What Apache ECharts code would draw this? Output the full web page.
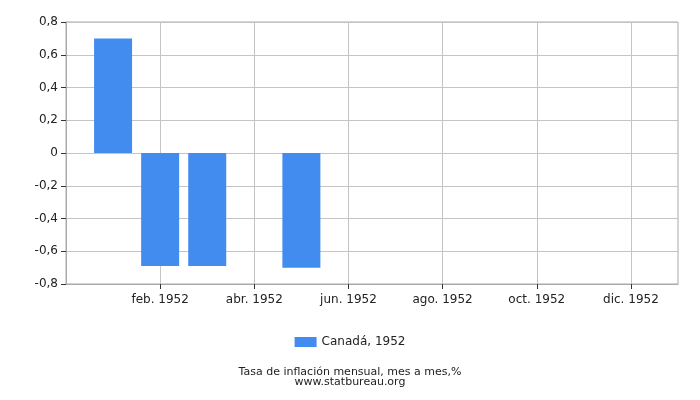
<!DOCTYPE html>
<html>
<head>
<meta charset="utf-8">
<script src="https://cdn.jsdelivr.net/npm/echarts@6/dist/echarts.min.js"></script>
<style>html,body{margin:0;padding:0;background:#fff}#c{width:700px;height:400px}</style>
</head>
<body>
<div id="c"></div>
<script>
var months = ['dic. 1951','ene. 1952','feb. 1952','mar. 1952','abr. 1952','may. 1952','jun. 1952','jul. 1952','ago. 1952','sep. 1952','oct. 1952','nov. 1952','dic. 1952','ene. 1953'];
var values = [null, 0.7, -0.69, -0.69, 0, -0.7, null, null, null, null, null, null, null, null];
var seriesName = 'Canadá, 1952';
var titleText = 'Tasa de inflación mensual, mes a mes,%';
var subText = 'www.statbureau.org';

var FONT = 'DejaVu Sans';
var showIdx = function (i) { return i % 2 === 0 && i > 0 && i < 13; };
var chart = echarts.init(document.getElementById('c'), null, {renderer: 'canvas'});
chart.setOption({
  animation: false,
  textStyle: {fontFamily: FONT},
  grid: {left: 66, right: 22, top: 22, bottom: 116, show: true, borderColor: '#aaaaaa', borderWidth: 1, backgroundColor: 'transparent'},
  title: {
    text: titleText, subtext: subText, left: 'center', top: 362, itemGap: -1,
    textStyle: {fontFamily: FONT, fontSize: 11, fontWeight: 'normal', color: '#222', lineHeight: 11},
    subtextStyle: {fontFamily: FONT, fontSize: 11, color: '#222', lineHeight: 11}
  },
  legend: {
    data: [seriesName], left: 'center', top: 331, itemWidth: 22, itemHeight: 10, icon: 'rect', itemGap: 5,
    textStyle: {fontFamily: FONT, fontSize: 12, color: '#222'}
  },
  xAxis: {
    type: 'category', data: months, boundaryGap: false,
    axisLine: {onZero: false, lineStyle: {color: '#aaaaaa'}},
    axisTick: {interval: showIdx, length: 5, lineStyle: {color: '#333'}},
    axisLabel: {interval: showIdx, fontFamily: FONT, fontSize: 12, color: '#222', margin: 10},
    splitLine: {show: true, interval: showIdx, lineStyle: {color: '#c4c4c4'}}
  },
  yAxis: {
    type: 'value', min: -0.8, max: 0.8, interval: 0.2,
    axisLine: {show: true, lineStyle: {color: '#aaaaaa'}},
    axisTick: {show: true, length: 5, lineStyle: {color: '#333'}},
    axisLabel: {fontFamily: FONT, fontSize: 12, color: '#222', margin: 8,
      formatter: function (v) { var r = Math.round(v * 10) / 10; return r === 0 ? '0' : r.toFixed(1).replace('.', ','); }},
    splitLine: {lineStyle: {color: '#c4c4c4'}}
  },
  series: [{
    name: seriesName, type: 'bar', data: values, barWidth: 38,
    itemStyle: {color: '#428bef'}
  }]
});
</script>
</body>
</html>
